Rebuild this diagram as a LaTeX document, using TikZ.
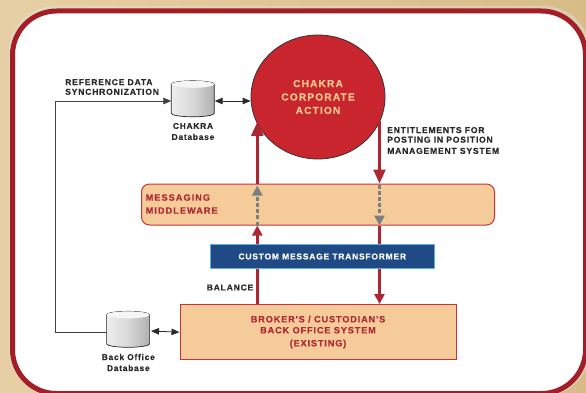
\documentclass[tikz,border=0pt]{standalone}
\usepackage{fontspec}
\setmainfont{Liberation Sans}
\usetikzlibrary{arrows.meta,shapes.geometric}
\definecolor{tanbg}{HTML}{E2C794}
\definecolor{tanbgb}{HTML}{D8BC88}
\definecolor{frameRed}{HTML}{A51E26}
\definecolor{circRed}{HTML}{C8252F}
\definecolor{peach}{HTML}{F6CB9A}
\definecolor{peachText}{HTML}{F6C88E}
\definecolor{boxRed}{HTML}{C9323C}
\definecolor{labelRed}{HTML}{AE2A35}
\definecolor{arrowRed}{HTML}{AE2632}
\definecolor{navy}{HTML}{1F4A86}
\definecolor{skyEdge}{HTML}{5CB0DE}
\definecolor{labelDark}{HTML}{2A2A2A}
\definecolor{dashGray}{HTML}{7B7F80}
\newfontfamily\boldsp[LetterSpace=9,FakeBold=0.25,Ligatures=NoCommon]{Liberation Sans}
\newfontfamily\boldspw[LetterSpace=11,FakeBold=0.25,Ligatures=NoCommon]{Liberation Sans}
\tikzset{
  lbl/.style={inner sep=0pt,text=labelDark,align=left,font=\boldsp\bfseries\fontsize{8.6}{9.6}\selectfont},
  dblbl/.style={inner sep=0pt,text=labelDark,align=center,font=\boldsp\bfseries\fontsize{8.4}{11}\selectfont},
  dbbox/.style={minimum width=43pt,minimum height=36pt,inner sep=0pt},
  redflow/.style={draw=arrowRed,line width=2.4pt},
  redhead/.style={-{Triangle[width=12pt,length=14pt]}},
  redheadsm/.style={-{Triangle[width=10pt,length=10pt]}},
  grayflow/.style={draw=dashGray,line width=2.8pt,dash pattern=on 4pt off 2.2pt,
     -{Triangle[width=10pt,length=10pt]}},
  dbllink/.style={draw=labelDark,line width=0.8pt,{Triangle[width=6.5pt,length=8pt]}-{Triangle[width=6.5pt,length=8pt]}},
  synclink/.style={draw=black!75,line width=0.8pt,-{Triangle[width=6.5pt,length=8pt]}}
}
\newcommand{\dbcyl}[3]{%
  \node[dbbox] (#1) at (#2,#3) {};
  \path[left color=gray!14,right color=gray!62,middle color=gray!30,draw=black!85,line width=0.7pt]
    (#1.north west) ++(0,3.5) -- ++(0,29)
    arc[start angle=180,end angle=360,x radius=21.5pt,y radius=3.5pt]
    -- ++(0,-29)
    arc[start angle=0,end angle=180,x radius=21.5pt,y radius=3.5pt] -- cycle;
  \path[fill=gray!8,draw=none]
    (#1.north west) ++(0,3.5)
    arc[start angle=180,end angle=360,x radius=21.5pt,y radius=3.5pt]
    arc[start angle=0,end angle=180,x radius=21.5pt,y radius=3.5pt] -- cycle;
}
\begin{document}
\begin{tikzpicture}[x=1pt,y=-1pt]
\useasboundingbox (0,0) rectangle (586,393);
\fill[left color=tanbg!85!white,right color=tanbgb] (0,0) rectangle (586,393);
\fill[black!12,opacity=0.5,rounded corners=46pt] (9,6) rectangle (590,396);
\draw[draw=frameRed,fill=white,line width=5pt,rounded corners=44pt] (12.5,11) rectangle (585.5,393.5);

\node[ellipse,draw=black!80,fill=circRed,line width=0.8pt,minimum width=134pt,minimum height=124pt,inner sep=0pt,
  text=peachText,align=center,font=\boldspw\bfseries\fontsize{10.2}{13.4}\selectfont] (circle) at (318,97) {CHAKRA\\CORPORATE\\ACTION};

\node[draw=boxRed,fill=peach,line width=1pt,rounded corners=8pt,minimum width=353pt,minimum height=41pt,inner sep=0pt] (middleware) at (318,204.5) {};
\node[inner sep=0pt,anchor=west,text=labelRed,align=left,font=\boldspw\bfseries\fontsize{9.2}{13}\selectfont] (middlewaretext) at (145.5,204) {MESSAGING\\MIDDLEWARE};

\node[draw=skyEdge,fill=navy,line width=1pt,minimum width=224pt,minimum height=24pt,inner sep=0pt,
  text=white,font=\boldsp\bfseries\fontsize{8.5}{10}\selectfont] (transformer) at (322.3,256.5) {CUSTOM MESSAGE TRANSFORMER};

\node[draw=boxRed,fill=peach,line width=1pt,minimum width=276pt,minimum height=55pt,inner sep=0pt,
  text=labelRed,align=center,font=\boldsp\bfseries\fontsize{9.2}{11}\selectfont] (broker) at (318,332) {BROKER'S / CUSTODIAN'S\\BACK OFFICE SYSTEM\\[2pt](EXISTING)};

\dbcyl{chakradb}{193}{99}
\dbcyl{backdb}{128.3}{329.5}

\node[dblbl] (chakralabel) at (193,131.5) {CHAKRA\\Database};
\node[dblbl] (backlabel) at (128.3,362.5) {Back Office\\Database};
\node[lbl,anchor=west] (reflabel) at (65,87) {REFERENCE DATA\\SYNCHRONIZATION};
\node[lbl,anchor=west] (entlabel) at (387,140.5) {ENTITLEMENTS FOR\\POSTING IN POSITION\\[1.6pt]MANAGEMENT SYSTEM};
\node[lbl,anchor=west] (ballabel) at (206.5,287.5) {BALANCE};

\coordinate (ax) at (257.3,0);
\coordinate (bx) at (379.5,0);
\coordinate (leftx) at (55,0);
\coordinate (dby) at (0,101);

% up flow
\draw[redflow] (broker.north -| ax) -- (transformer.south -| ax);
\draw[redflow,redheadsm] (transformer.north -| ax) -- (middleware.south -| ax);
\draw[redflow,redhead] (middleware.north -| ax) -- (ax |- circle.202.8);
\draw[grayflow] (middleware.south -| ax) -- ([yshift=-2pt]middleware.north -| ax);
% down flow
\draw[redflow,redhead] (bx |- circle.-21.8) -- (middleware.north -| bx);
\draw[grayflow] ([yshift=-1pt]middleware.north -| bx) -- (middleware.south -| bx);
\draw[redflow] (middleware.south -| bx) -- (transformer.north -| bx);
\draw[redflow,redheadsm] (transformer.south -| bx) -- (broker.north -| bx);

\draw[dbllink] (chakradb.east |- dby) -- (circle.west |- dby);
\draw[dbllink] (backdb.east) ++(1,1.5) -- ([yshift=-0.2pt]broker.west);
\draw[synclink] (backdb.west |- broker.west) -- (leftx |- broker.west) -- (leftx |- dby) -- (chakradb.west |- dby);
\end{tikzpicture}
\end{document}
